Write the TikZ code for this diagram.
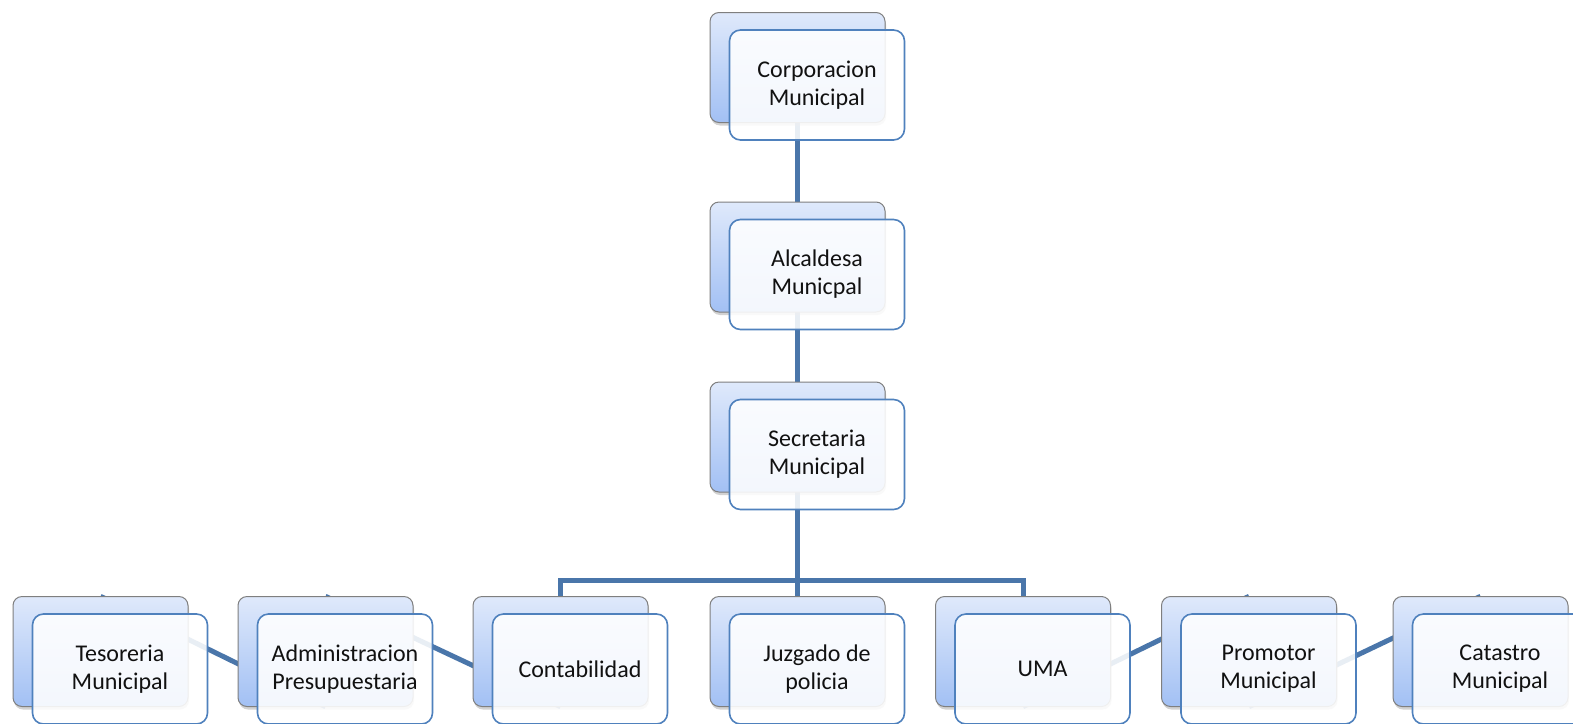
\documentclass[tikz,border=0pt]{standalone}
\usepackage{fontspec}
\setmainfont{Carlito}
\usetikzlibrary{shadows}
\definecolor{conncol}{HTML}{4A76AA}
\definecolor{frontline}{HTML}{4F81BD}
\definecolor{backtop}{HTML}{DFE9FB}
\definecolor{backbot}{HTML}{A2C0F4}
\definecolor{backline}{HTML}{7F7F7F}
\definecolor{txt}{HTML}{111111}
\tikzset{
  backbox/.style={rectangle, rounded corners=9pt, minimum width=175pt, minimum height=110pt,
    inner sep=0pt, draw=backline, line width=1pt, top color=backtop, bottom color=backbot,
    drop shadow={shadow xshift=1pt, shadow yshift=-3pt, opacity=0.35}},
  frontbox/.style={rectangle, rounded corners=11pt, minimum width=175pt, minimum height=110pt,
    inner sep=0pt, draw=frontline, line width=1.6pt, fill=white, fill opacity=0.88,
    draw opacity=1, text opacity=1, text=txt, align=center,
    font=\fontsize{24}{28}\selectfont},
  conn/.style={draw=conncol, line width=5pt}
}
\begin{document}
\begin{tikzpicture}[x=1pt, y=-1pt]
\useasboundingbox (0,0) rectangle (1573,723);
\clip (0,0) rectangle (1573,723);
\fill[white] (0,0) rectangle (1573,723);
% back boxes positions as coordinates
\coordinate (pc) at (797.5,67.5);
\coordinate (pa) at (797.5,257);
\coordinate (ps) at (797.5,437);
\coordinate (pt) at (100.5,651.5);
\coordinate (pd) at (325.5,651.5);
\coordinate (pk) at (560.5,651.5);
\coordinate (pj) at (797.5,651.5);
\coordinate (pu) at (1023,651.5);
\coordinate (pp) at (1249,651.5);
\coordinate (px) at (1480.5,651.5);
% invisible back box shapes for anchors
\foreach \n in {c,a,s,t,d,k,j,u,p,x}{
  \node[minimum width=175pt, minimum height=110pt, inner sep=0pt] (b\n) at (p\n) {};
}
\coordinate (bus) at (797.5,580);
% connectors
\draw[conn] (bc.south) -- (ba.north);
\draw[conn] (ba.south) -- (bs.north);
\draw[conn] (bs.south) -- (bj.north);
\draw[conn] (bk.north) -- (bk.north |- bus) -- (bu.north |- bus) -- (bu.north);
\draw[conn] (bt.north) -- (bd.south);
\draw[conn] (bd.north) -- (bk.south);
\draw[conn] (bu.south) -- (bp.north);
\draw[conn] (bp.south) -- (bx.north);
% back boxes
\foreach \n in {c,a,s,t,d,k,j,u,p,x}{
  \node[backbox] (g\n) at (p\n) {};
}
% front boxes
\node[frontbox] (fc) at ([shift={(19.5,17.5)}]pc) {Corporacion\\Municipal};
\node[frontbox] (fa) at ([shift={(19.5,17.5)}]pa) {Alcaldesa\\Municpal};
\node[frontbox] (fs) at ([shift={(19.5,17.5)}]ps) {Secretaria\\Municipal};
\node[frontbox] (ft) at ([shift={(19.5,17.5)}]pt) {Tesoreria\\Municipal};
\node[frontbox] (fd) at ([shift={(19.5,17.5)}]pd) {Administracion\\Presupuestaria};
\node[frontbox] (fk) at ([shift={(19.5,17.5)}]pk) {Contabilidad};
\node[frontbox] (fj) at ([shift={(19.5,17.5)}]pj) {Juzgado de\\policia};
\node[frontbox] (fu) at ([shift={(19.5,17.5)}]pu) {UMA};
\node[frontbox] (fp) at ([shift={(19.5,17.5)}]pp) {Promotor\\Municipal};
\node[frontbox] (fx) at ([shift={(19.5,17.5)}]px) {Catastro\\Municipal};
\end{tikzpicture}
\end{document}
